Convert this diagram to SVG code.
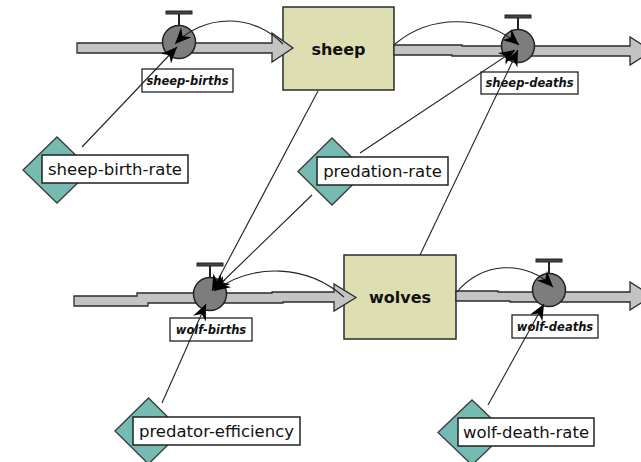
<svg xmlns="http://www.w3.org/2000/svg" width="641" height="462" viewBox="0 0 641 462">
<defs>
<style>
.stock{fill:#dedeb3;stroke:#2b2b2b;stroke-width:1.5}
.stocklbl{font-family:"DejaVu Sans",sans-serif;font-weight:bold;font-size:16px;fill:#111;text-anchor:middle}
.pipe{fill:#c3c3c3;stroke:#2b2b2b;stroke-width:1.3;stroke-linejoin:miter}
.valve{fill:#7d7d7d;stroke:#222;stroke-width:1.5}
.handle{fill:#444;stroke:#222;stroke-width:1}
.stem{stroke:#222;stroke-width:2}
.flbox{fill:#fff;stroke:#222;stroke-width:1.3}
.fltxt{font-family:"DejaVu Sans",sans-serif;font-style:italic;font-weight:bold;font-size:11.5px;fill:#111;text-anchor:middle}
.diamond{fill:#76bbb2;stroke:#3a3a3a;stroke-width:1.3}
.auxbox{fill:#fff;stroke:#222;stroke-width:1.5}
.auxtxt{font-family:"DejaVu Sans",sans-serif;font-size:16.5px;fill:#111;text-anchor:middle}
.link{fill:none;stroke:#222;stroke-width:1.1;marker-end:url(#ah)}
</style>
<marker id="ah" markerUnits="userSpaceOnUse" markerWidth="18" markerHeight="16" refX="16" refY="8" orient="auto" viewBox="0 0 18 16">
<path d="M0,1 L16,8 L0,15 L5,8 Z" fill="#000"/>
</marker>
<g id="valveShape">
<line class="stem" x1="0" y1="-16" x2="0" y2="-28"/>
<rect class="handle" x="-13" y="-31" width="26" height="3"/>
<circle class="valve" cx="0" cy="0" r="16.5"/>
</g>
</defs>
<rect width="641" height="462" fill="#fff"/>

<g id="sheep">
<rect class="stock" x="283" y="7" width="111" height="83"/>
<text class="stocklbl" x="338.5" y="55">sheep</text>
</g>
<g id="wolves">
<rect class="stock" x="344" y="255" width="112" height="84"/>
<text class="stocklbl" x="400" y="303">wolves</text>
</g>

<g id="pipes">
<path class="pipe" d="M77,43 H272 V33 L293,48 L272,62 V53 H77 Z"/>
<path class="pipe" d="M394,45 H462 V46 H630 V37 L652,51 L630,65 V56 H452 V55 H394 Z"/>
<path class="pipe" d="M74,296 H137 V293 H272 V292 H334 V284 L356,297.5 L334,311 V302 H283 V303 H148 V306 H74 Z"/>
<path class="pipe" d="M456,291 H498 V292 H630 V282 L652,296 L630,310 V302 H510 V301 H456 Z"/>
</g>

<g id="sheep-births">
<use href="#valveShape" x="179" y="42"/>
<rect class="flbox" x="142" y="69" width="91" height="23"/>
<text class="fltxt" x="187.5" y="84.5">sheep-births</text>
</g>
<g id="sheep-deaths">
<use href="#valveShape" x="518" y="46"/>
<rect class="flbox" x="481" y="72" width="97" height="22"/>
<text class="fltxt" x="529.5" y="87">sheep-deaths</text>
</g>
<g id="wolf-births">
<use href="#valveShape" x="210" y="294"/>
<rect class="flbox" x="170" y="318" width="82" height="23"/>
<text class="fltxt" x="211" y="333.5">wolf-births</text>
</g>
<g id="wolf-deaths">
<use href="#valveShape" x="549" y="290"/>
<rect class="flbox" x="512" y="315" width="86" height="23"/>
<text class="fltxt" x="555" y="330.5">wolf-deaths</text>
</g>

<g id="sheep-birth-rate">
<polygon class="diamond" points="23,170 57,137 91,170 57,203"/>
<rect class="auxbox" x="42" y="155" width="146" height="28"/>
<text class="auxtxt" x="115" y="175">sheep-birth-rate</text>
</g>
<g id="predation-rate">
<polygon class="diamond" points="298,171.5 332,138 366,171.5 332,205"/>
<rect class="auxbox" x="317" y="157" width="131" height="28"/>
<text class="auxtxt" x="382.5" y="177">predation-rate</text>
</g>
<g id="predator-efficiency">
<polygon class="diamond" points="115,431 148.5,398 182,431 148.5,464"/>
<rect class="auxbox" x="133" y="417" width="167" height="28"/>
<text class="auxtxt" x="216.5" y="437">predator-efficiency</text>
</g>
<g id="wolf-death-rate">
<polygon class="diamond" points="438,432.5 472,400 506,432.5 472,465"/>
<rect class="auxbox" x="458" y="418" width="136" height="28"/>
<text class="auxtxt" x="526" y="438">wolf-death-rate</text>
</g>

<g id="connectors">
<path class="link" d="M82,147 L177,47"/>
<path class="link" d="M283,44 A75,75 0 0 0 175,44"/>
<path class="link" d="M395,44 A96,96 0 0 1 519,45"/>
<path class="link" d="M360,153 L515,50"/>
<path class="link" d="M420,255 L518,50"/>
<path class="link" d="M318,91 L212,291"/>
<path class="link" d="M312,195 L214,290"/>
<path class="link" d="M344,297 A104,104 0 0 0 214,291"/>
<path class="link" d="M162,403 L206,304"/>
<path class="link" d="M457,292 A64,64 0 0 1 553,287"/>
<path class="link" d="M488,405 L544,304"/>
</g>
</svg>
